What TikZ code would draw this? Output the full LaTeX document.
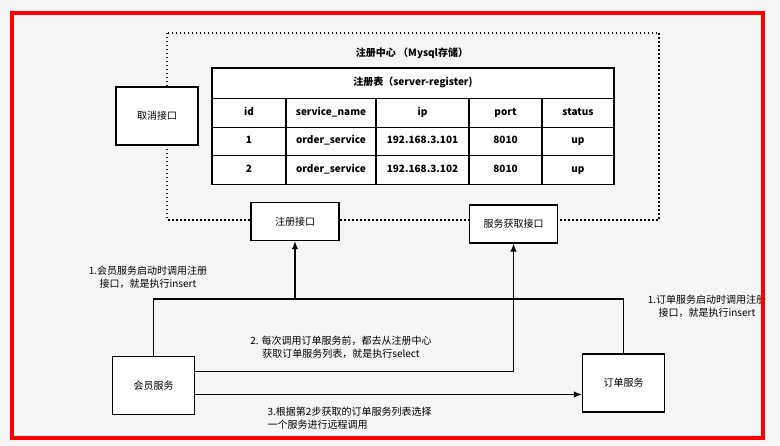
\documentclass[tikz,border=0pt]{standalone}
\usepackage{fontspec}
\setmainfont{Noto Sans CJK SC}
\usetikzlibrary{arrows.meta, positioning}
\tikzset{
    -{Latex[length=8pt, width=6.5pt]}, semithick,
    box/.style ={rectangle, draw, fill=white, minimum width=82pt, minimum height=58pt},
    smallbox/.style ={rectangle, draw, fill=white, minimum width=88pt, minimum height=38pt},
    cell/.style ={rectangle, draw, fill=white, minimum height=28.5pt, text height=7.5pt, text depth=2.5pt, font=\bfseries},
    el/.style = {inner sep=2pt, align=center, font=\fontsize{10}{13}\selectfont}
    }

\begin{document}
\begin{tikzpicture}[
      x = 1pt, y = -1pt, % pixel grid
      line width = 1.3pt % line style
    ]

    \fill[black!4] (0,0) rectangle (780,446);
    \useasboundingbox (0,0) rectangle (780,446);

    % registry center
    \draw[dash pattern=on 1.5pt off 2.5pt] (167,33) rectangle (659,220);
    \node[font=\bfseries] (6) at (412,53) {注册中心 （Mysql存储）};

    \node[cell, minimum width=402pt, minimum height=31pt] (7) at (413,83.5) {注册表（server-register)};

    \node[cell, minimum width=74pt] (11) at (249,113) {id};
    \node[cell, minimum width=90pt] (12) at (331,113) {service\_name};
    \node[cell, minimum width=93pt] (13) at (422.5,113) {ip};
    \node[cell, minimum width=73pt] (14) at (505.5,113) {port};
    \node[cell, minimum width=72pt] (15) at (578,113) {status};

    \node[cell, minimum width=74pt] (21) at (249,141.5) {1};
    \node[cell, minimum width=90pt] (22) at (331,141.5) {order\_service};
    \node[cell, minimum width=93pt] (23) at (422.5,141.5) {192.168.3.101};
    \node[cell, minimum width=73pt] (24) at (505.5,141.5) {8010};
    \node[cell, minimum width=72pt] (25) at (578,141.5) {up};

    \node[cell, minimum width=74pt] (31) at (249,170) {2};
    \node[cell, minimum width=90pt] (32) at (331,170) {order\_service};
    \node[cell, minimum width=93pt] (33) at (422.5,170) {192.168.3.102};
    \node[cell, minimum width=73pt] (34) at (505.5,170) {8010};
    \node[cell, minimum width=72pt] (35) at (578,170) {up};

    % interfaces
    \node[box] (1) at (157,116) {取消接口};
    \node[smallbox] (2) at (295,221.5) {注册接口};
    \node[smallbox] (3) at (513.5,224) {服务获取接口};

    % services
    \node[box] (4) at (153.5,385.5) {会员服务};
    \node[box] (5) at (623.5,383) {订单服务};

    \coordinate (j) at (295,299);

    \draw[-] (4.north) |- (j) -| (5.north);
    \path (j) edge (2.south);
    \draw ([yshift=14pt]4.east) -| (3.south);
    \draw ([yshift=-9pt]4.east) -- ([yshift=-9pt]4.east -| 5.west);

    \node[el] (8) at (148,277) {1.会员服务启动时调用注册\\接口，就是执行insert};
    \node[el] (9) at (341,347.5) {2. 每次调用订单服务前，都去从注册中心\\获取订单服务列表，就是执行select};
    \node[el, align=left, anchor=west] (10) at (265,418.5) {3.根据第2步获取的订单服务列表选择\\一个服务进行远程调用};
    \node[el] (16) at (707,306.5) {1.订单服务启动时调用注册\\接口，就是执行insert};

    \draw[red, line width=4pt] (12,13) rectangle (763,438);
\end{tikzpicture}
\end{document}
